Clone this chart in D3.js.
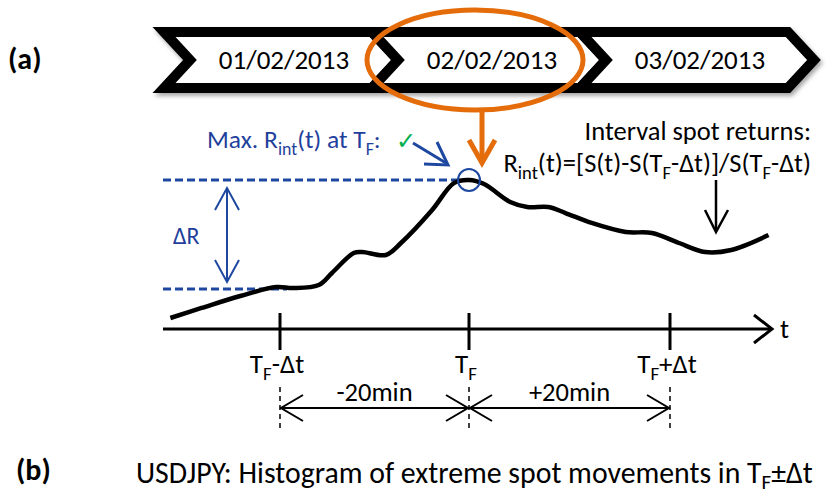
<!DOCTYPE html>
<html><head><meta charset="utf-8">
<script src="https://cdn.jsdelivr.net/npm/d3@7"></script>
<style>
body{margin:0;background:#fff;}
svg{display:block;font-family:Carlito, Lato, "Open Sans", sans-serif;}
</style>
</head><body>
<svg id="c" width="830" height="496"></svg>
<script>
// ---------- data ----------
const dates = ["01/02/2013", "02/02/2013", "03/02/2013"];
const highlightDate = "02/02/2013";
// spot path: minutes relative to T_F, and interval return (0 = level at T_F-Δt, 100 = max at T_F)
const spotMinutes = [-31.6, -28.3, -24.2, -20.4, -18.6, -15.9, -14.5, -12.2, -11.3, -8.8, -7.2, -3.9, -1.6, 0, 1.5, 4.1, 5.8, 7.9, 9.6, 12.2, 15.6, 18.2, 20.9, 23.5, 26.1, 29.8];
const spotReturns = [-26.6, -17.4, -6.4, 1.8, 0.9, 3.7, 14.7, 33.0, 33.9, 31.2, 42.2, 72.5, 97.2, 100, 96.3, 79.8, 75.2, 75.2, 69.7, 60.6, 52.3, 51.4, 42.2, 33.9, 35.8, 49.5];
const tickMinutes = [-20, 0, 20];
const tickLabels = [[["T", 0], ["F", 1], ["-Δt", 0]], [["T", 0], ["F", 1]], [["T", 0], ["F", 1], ["+Δt", 0]]];
const intervalLabels = ["-20min", "+20min"];
const maxLabel = [["Max. R", 0], ["int", 1], ["(t) at T", 0], ["F", 1], [":", 0]];
const formulaTitle = "Interval spot returns:";
const formulaLabel = [["R", 0], ["int", 1], ["(t)=[S(t)-S(T", 0], ["F", 1], ["-Δt)]/S(T", 0], ["F", 1], ["-Δt)", 0]];
const bottomTitle = [["USDJPY: Histogram of extreme spot movements in T", 0], ["F", 1], ["±Δt", 0]];

// ---------- setup ----------
const svg = d3.select("#c");
const BLUE = "#1F3F9C", BLUE_LINE = "#1E48A0", ORANGE = "#E46C0A", GREEN = "#00B050";

const defs = svg.append("defs");
const f = defs.append("filter").attr("id", "sh").attr("x", "-5%").attr("y", "-20%").attr("width", "110%").attr("height", "150%");
f.append("feDropShadow").attr("dx", 2).attr("dy", 3).attr("stdDeviation", 2).attr("flood-color", "#000").attr("flood-opacity", 0.35);

function richText(g, parts, size, shift = 0.26) {
  let down = false;
  parts.forEach(([t, sub]) => {
    const ts = g.append("tspan").text(t);
    if (sub && !down) { ts.attr("dy", size * shift).attr("font-size", size * 0.7); down = true; }
    else if (sub) { ts.attr("font-size", size * 0.7); }
    else if (!sub && down) { ts.attr("dy", -size * shift); down = false; }
  });
  return g;
}

// ---------- (a) label ----------
svg.append("text").attr("x", 8).attr("y", 69).attr("font-size", 30).attr("font-weight", "bold").text("(a)");

// ---------- chevrons ----------
const cx = d3.scaleBand().domain(dates).range([164, 788]).padding(0);
const cTop = 32, cBot = 88, cMid = 60, depth = 26;
const chev = svg.append("g").attr("filter", "url(#sh)");
dates.forEach(d => {
  const x0 = cx(d), w = cx.bandwidth();
  const pts = [[x0, cTop], [x0 + w, cTop], [x0 + w + depth, cMid], [x0 + w, cBot], [x0, cBot], [x0 + depth, cMid]];
  chev.append("path").attr("d", d3.line()(pts) + "Z")
    .attr("fill", "#fff").attr("stroke", "#000").attr("stroke-width", 10).attr("stroke-linejoin", "miter");
});
dates.forEach(d => {
  const x0 = cx(d), w = cx.bandwidth();
  svg.append("text").attr("x", x0 + (depth + w) / 2 + 3).attr("y", 69).attr("text-anchor", "middle")
    .attr("font-size", 27).attr("fill", "#000").text(d);
});

// ---------- scales ----------
const x = d3.scaleLinear().domain([-20, 0, 20]).range([280, 469, 670]);
const y = d3.scaleLinear().domain([0, 100]).range([289, 180]);
const axisY = 329;

// orange highlight
const hx = cx(highlightDate) + (depth + cx.bandwidth()) / 2;
svg.append("ellipse").attr("cx", hx - 14).attr("cy", 60).attr("rx", 108).attr("ry", 50)
  .attr("fill", "none").attr("stroke", ORANGE).attr("stroke-width", 5);
const ox = x(0) + 13;
svg.append("line").attr("x1", ox).attr("x2", ox).attr("y1", 110).attr("y2", 162)
  .attr("stroke", ORANGE).attr("stroke-width", 5);
svg.append("polyline").attr("points", [[ox - 13, 140], [ox, 163], [ox + 13, 140]].join(" "))
  .attr("fill", "none").attr("stroke", ORANGE).attr("stroke-width", 5);

// ---------- blue ΔR annotations ----------
svg.append("line").attr("x1", 163).attr("x2", x(0) - 9).attr("y1", y(100)).attr("y2", y(100))
  .attr("stroke", BLUE_LINE).attr("stroke-width", 3).attr("stroke-dasharray", "8,4");
svg.append("line").attr("x1", 163).attr("x2", 287).attr("y1", y(0)).attr("y2", y(0))
  .attr("stroke", BLUE_LINE).attr("stroke-width", 3).attr("stroke-dasharray", "8,4");
const ax = 227;
svg.append("line").attr("x1", ax).attr("x2", ax).attr("y1", y(100) + 8).attr("y2", y(0) - 7)
  .attr("stroke", BLUE_LINE).attr("stroke-width", 2);
svg.append("polyline").attr("points", [[ax - 12, y(100) + 30], [ax, y(100) + 8], [ax + 12, y(100) + 30]].join(" "))
  .attr("fill", "none").attr("stroke", BLUE_LINE).attr("stroke-width", 2);
svg.append("polyline").attr("points", [[ax - 12, y(0) - 29], [ax, y(0) - 7], [ax + 12, y(0) - 29]].join(" "))
  .attr("fill", "none").attr("stroke", BLUE_LINE).attr("stroke-width", 2);
svg.append("text").attr("x", 173).attr("y", 244).attr("font-size", 24).attr("fill", BLUE).text("ΔR");

// max label
richText(svg.append("text").attr("x", 207).attr("y", 148).attr("font-size", 25.5).attr("fill", BLUE), maxLabel, 25.5);
svg.append("text").attr("x", 396).attr("y", 149).attr("font-size", 24).attr("fill", GREEN)
  .attr("font-family", "DejaVu Sans").text("✓");
svg.append("line").attr("x1", 413).attr("y1", 143).attr("x2", 446).attr("y2", 163)
  .attr("stroke", BLUE_LINE).attr("stroke-width", 3);
svg.append("polyline").attr("points", [[437, 142], [448, 165], [424, 164]].join(" "))
  .attr("fill", "none").attr("stroke", BLUE_LINE).attr("stroke-width", 3);

// ---------- spot curve ----------
const pts = spotMinutes.map((m, i) => [x(m), y(spotReturns[i])]);
svg.append("path").attr("d", d3.line().curve(d3.curveCatmullRom.alpha(0.5))(pts))
  .attr("fill", "none").attr("stroke", "#000").attr("stroke-width", 4.5);
svg.append("circle").attr("cx", x(0)).attr("cy", y(100)).attr("r", 11)
  .attr("fill", "none").attr("stroke", BLUE_LINE).attr("stroke-width", 2);

// formula text + arrow
svg.append("text").attr("x", 811).attr("y", 140).attr("text-anchor", "end").attr("font-size", 26.5).text(formulaTitle);
richText(svg.append("text").attr("x", 811).attr("y", 172).attr("text-anchor", "end").attr("font-size", 26.5), formulaLabel, 26.5);
svg.append("line").attr("x1", 716).attr("x2", 716).attr("y1", 180).attr("y2", 231).attr("stroke", "#000").attr("stroke-width", 2.5);
svg.append("polyline").attr("points", [[705, 210], [716, 232], [728, 210]].join(" "))
  .attr("fill", "none").attr("stroke", "#000").attr("stroke-width", 2.5);

// ---------- time axis ----------
svg.append("line").attr("x1", 163).attr("x2", 771).attr("y1", axisY).attr("y2", axisY)
  .attr("stroke", "#000").attr("stroke-width", 3);
svg.append("polyline").attr("points", [[754, 315], [772, axisY], [754, 343]].join(" "))
  .attr("fill", "none").attr("stroke", "#000").attr("stroke-width", 3);
svg.append("text").attr("x", 780).attr("y", 338).attr("font-size", 27).text("t");

tickMinutes.forEach((m, i) => {
  svg.append("line").attr("x1", x(m)).attr("x2", x(m)).attr("y1", axisY - 16).attr("y2", axisY + 21)
    .attr("stroke", "#000").attr("stroke-width", 3);
  richText(svg.append("text").attr("x", x(m) - 3).attr("y", 373).attr("text-anchor", "middle").attr("font-size", 27), tickLabels[i], 27);
  svg.append("line").attr("x1", x(m)).attr("x2", x(m)).attr("y1", 387).attr("y2", 432)
    .attr("stroke", "#000").attr("stroke-width", 1.5).attr("stroke-dasharray", "5,4");
});

// interval double arrows
const arrY = 408;
[[-20, 0], [0, 20]].forEach(([a, b], i) => {
  const xa = x(a) + 1, xb = x(b) - 1;
  svg.append("line").attr("x1", xa).attr("x2", xb).attr("y1", arrY).attr("y2", arrY).attr("stroke", "#000").attr("stroke-width", 2);
  svg.append("polyline").attr("points", [[xa + 22, arrY - 13], [xa, arrY], [xa + 22, arrY + 13]].join(" "))
    .attr("fill", "none").attr("stroke", "#000").attr("stroke-width", 2);
  svg.append("polyline").attr("points", [[xb - 22, arrY - 13], [xb, arrY], [xb - 22, arrY + 13]].join(" "))
    .attr("fill", "none").attr("stroke", "#000").attr("stroke-width", 2);
  svg.append("text").attr("x", (x(a) + x(b)) / 2).attr("y", 401).attr("text-anchor", "middle")
    .attr("font-size", 26.5).text(intervalLabels[i]);
});

// ---------- (b) ----------
svg.append("text").attr("x", 16).attr("y", 480).attr("font-size", 30).attr("font-weight", "bold").text("(b)");
richText(svg.append("text").attr("x", 136).attr("y", 483).attr("font-size", 29.8), bottomTitle, 29.8, 0.2);
</script>
</body></html>
